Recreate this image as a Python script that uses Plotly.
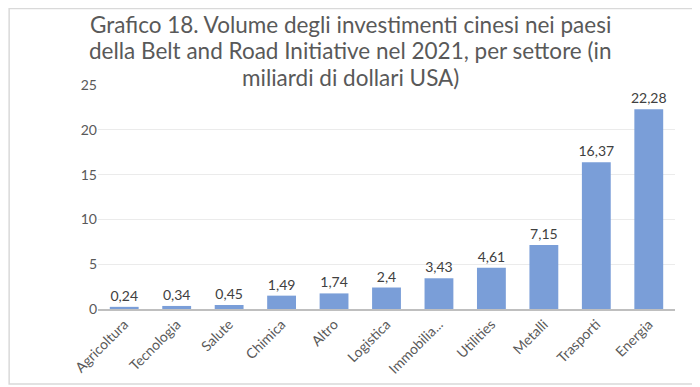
import plotly.graph_objects as go

categories = ["Agricoltura", "Tecnologia", "Salute", "Chimica", "Altro", "Logistica",
              "Immobilia...", "Utilities", "Metalli", "Trasporti", "Energia"]
values = [0.24, 0.34, 0.45, 1.49, 1.74, 2.4, 3.43, 4.61, 7.15, 16.37, 22.28]
value_labels = ["0,24", "0,34", "0,45", "1,49", "1,74", "2,4", "3,43", "4,61", "7,15", "16,37", "22,28"]
y_ticks = [0, 5, 10, 15, 20, 25]
title_lines = ["Grafico 18. Volume degli investimenti cinesi nei paesi",
               "della Belt and Road Initiative nel 2021, per settore (in",
               "miliardi di dollari USA)"]

FONT = "Lato, Open Sans, sans-serif"

fig = go.Figure(go.Bar(
    x=categories, y=values,
    marker=dict(color="#7A9ED8", line=dict(width=0)),
    text=value_labels, textposition="outside", cliponaxis=False,
    constraintext="none",
    textfont=dict(family=FONT, size=14, color="#404040"),
))

# the page body adds an 8px offset, so the figure is sized to fit
title_y = [1.272, 1.152, 1.032]
annotations = [dict(
    text=line, xref="paper", yref="paper",
    x=0.437, y=yy, xanchor="center", yanchor="middle",
    showarrow=False, font=dict(family=FONT, size=22.5, color="#595959"),
) for line, yy in zip(title_lines, title_y)]

fig.update_layout(
    width=692, height=379,
    margin=dict(l=90, r=25, t=77, b=78, autoexpand=False),
    paper_bgcolor="white", plot_bgcolor="white",
    bargap=0.45,
    showlegend=False,
    xaxis=dict(
        tickangle=-45, tickfont=dict(family=FONT, size=14, color="#595959"),
        showline=True, linecolor="#BFBFBF", linewidth=1.5, ticks="",
        showgrid=False, automargin=False,
    ),
    yaxis=dict(
        range=[0, 25], tickvals=y_ticks,
        tickfont=dict(family=FONT, size=14, color="#595959"),
        showgrid=True, gridcolor="#EBEBEB", gridwidth=1,
        zeroline=False, showline=False, ticks="", ticklen=0,
        automargin=False,
    ),
    annotations=annotations,
    shapes=[dict(type="rect", xref="paper", yref="paper",
                 x0=-0.154, x1=1.038, y0=-0.335, y1=1.341,
                 line=dict(color="#D9D9D9", width=1.5), layer="below")],
)

fig.write_html("out.html")
